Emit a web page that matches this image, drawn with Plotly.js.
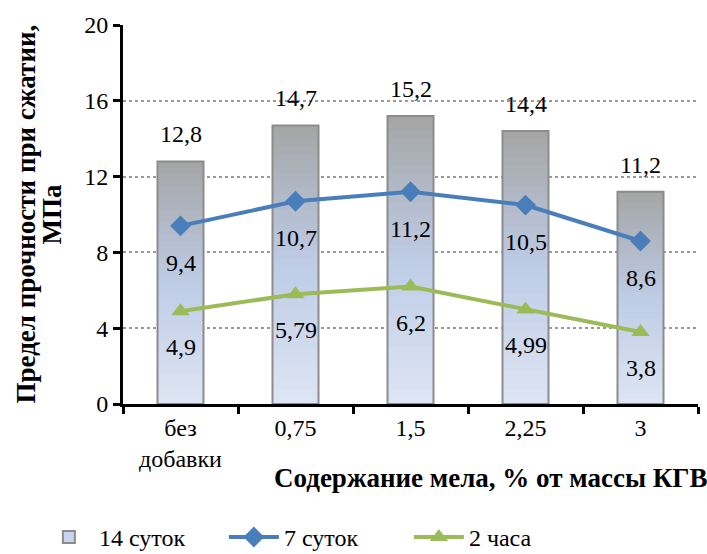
<!DOCTYPE html>
<html>
<head>
<meta charset="utf-8">
<script src="https://cdn.plot.ly/plotly-3.0.1.min.js"></script>
<style>
html,body{margin:0;padding:0;background:#fff;}
#warm{position:absolute;left:0;top:0;z-index:0;font-family:'Liberation Serif';font-size:24px;color:#000;white-space:nowrap;}
#chart{position:relative;z-index:1;}
</style>
</head>
<body>
<div id="warm">без добавки 0,75 14 суток 12,8 <b>Содержание</b></div>
<div id="chart"></div>
<script>
// ---- data ----
const categories = ["без<br>добавки", "0,75", "1,5", "2,25", "3"];
const days14 = [12.8, 14.7, 15.2, 14.4, 11.2];
const days7 = [9.4, 10.7, 11.2, 10.5, 8.6];
const hours2 = [4.9, 5.79, 6.2, 4.99, 3.8];
const labels14 = ["12,8", "14,7", "15,2", "14,4", "11,2"];
const labels7 = ["9,4", "10,7", "11,2", "10,5", "8,6"];
const labels2 = ["4,9", "5,79", "6,2", "4,99", "3,8"];
const seriesNames = ["14 суток", "7 суток", "2 часа"];
const yTicks = [0, 4, 8, 12, 16, 20];
const xTitle = "Содержание мела, % от массы КГВ";
const yTitle1 = "Предел прочности при сжатии,";
const yTitle2 = "МПа";

// ---- style ----
const FONT = 'Liberation Serif';
const FS = 24;
const TFS = 27;
const BAR_W = 0.4;
const N_SEG = 40;
const stops = [
  [0.0, [165, 165, 165]],
  [0.5, [190, 204, 230]],
  [1.0, [222, 229, 243]]
];
function gradColor(t) {
  for (let i = 0; i < stops.length - 1; i++) {
    const [t0, c0] = stops[i], [t1, c1] = stops[i + 1];
    if (t >= t0 && t <= t1) {
      const f = (t - t0) / (t1 - t0);
      const c = c0.map((v, j) => Math.round(v + (c1[j] - v) * f));
      return `rgb(${c[0]},${c[1]},${c[2]})`;
    }
  }
  return 'rgb(222,229,243)';
}

const traces = [];
traces.push({
  type: 'bar', name: seriesNames[0], x: [categories[0]], y: [null],
  marker: {color: 'rgb(200,213,236)', line: {color: '#8c8c8c', width: 2}},
  width: BAR_W, hoverinfo: 'skip'
});
for (let k = 0; k < N_SEG; k++) {
  const frac = (N_SEG - k) / N_SEG;
  traces.push({
    type: 'bar', x: categories, y: days14.map(v => v * frac),
    width: BAR_W, showlegend: false, hoverinfo: 'skip',
    marker: {color: gradColor((k + 0.5) / N_SEG), line: {width: 0}}
  });
}
traces.push({
  type: 'bar', x: categories, y: days14, width: BAR_W, showlegend: false,
  marker: {color: 'rgba(0,0,0,0)', line: {color: '#8c8c8c', width: 2}}
});
traces.push({
  type: 'scatter', mode: 'lines+markers', name: seriesNames[1], x: categories, y: days7,
  line: {color: '#4a7ebb', width: 4},
  marker: {symbol: 'diamond', size: 16, color: '#4a7ebb'}
});
traces.push({
  type: 'scatter', mode: 'lines+markers', name: seriesNames[2], x: categories, y: hours2,
  line: {color: '#9bbb59', width: 4},
  marker: {symbol: 'triangle-up', size: 16, color: '#9bbb59'}
});

const TXT = {family: FONT, size: FS, color: '#000'};
const TTL = {family: FONT, size: TFS, color: '#000'};
const annotations = [];
categories.forEach((c, i) => {
  annotations.push({x: i, y: days14[i], text: labels14[i], showarrow: false,
    yanchor: 'bottom', yshift: 12, font: TXT});
  annotations.push({x: i, y: days7[i], text: labels7[i], showarrow: false,
    yanchor: 'middle', yshift: -37, font: TXT});
  annotations.push({x: i, y: hours2[i], text: labels2[i], showarrow: false,
    yanchor: 'middle', yshift: -36, font: TXT});
});
annotations.push({
  xref: 'paper', yref: 'paper', x: 1.02, y: -0.195, xanchor: 'right', yanchor: 'middle',
  text: '<b>' + xTitle + '</b>', showarrow: false, font: TTL
});
annotations.push({
  xref: 'paper', yref: 'paper', x: -0.1704, y: 0.5, xanchor: 'center', yanchor: 'middle',
  textangle: -90, text: '<b>' + yTitle1 + '</b>', showarrow: false, font: TTL
});
annotations.push({
  xref: 'paper', yref: 'paper', x: -0.1235, y: 0.5, xanchor: 'center', yanchor: 'middle',
  textangle: -90, text: '<b>' + yTitle2 + '</b>', showarrow: false, font: TTL
});

const layout = {
  width: 707, height: 554,
  margin: {l: 123, r: 9, t: 25, b: 150, autoexpand: false},
  paper_bgcolor: '#fff', plot_bgcolor: '#fff',
  barmode: 'overlay',
  font: TXT,
  xaxis: {
    type: 'category', tickson: 'boundaries', ticks: 'outside', ticklen: 7, tickwidth: 3,
    tickcolor: '#000', showline: true, linecolor: '#000', linewidth: 3,
    showgrid: false, fixedrange: true, tickfont: TXT
  },
  yaxis: {
    range: [0, 20], tickvals: yTicks, ticks: 'outside', ticklen: 7, tickwidth: 3,
    tickcolor: '#000', showline: true, linecolor: '#000', linewidth: 3,
    showgrid: true, gridcolor: '#9a9a9a', gridwidth: 1.5, griddash: 'dot',
    zeroline: false, fixedrange: true, tickfont: TXT
  },
  legend: {
    orientation: 'h', xref: 'container', yref: 'container',
    x: 0.055, xanchor: 'left', y: 0.03, yanchor: 'middle',
    itemwidth: 50, entrywidth: 120, traceorder: 'normal', font: TXT
  },
  annotations: annotations,
  showlegend: true,
  hovermode: false
};

Plotly.newPlot('chart', traces, layout, {displayModeBar: false});
if (document.fonts && document.fonts.load) {
  Promise.all([
    document.fonts.load('24px "Liberation Serif"', 'без 12,8'),
    document.fonts.load('bold 27px "Liberation Serif"', 'Содержание')
  ]).then(() => Plotly.redraw('chart')).catch(() => {});
}
</script>
</body>
</html>
